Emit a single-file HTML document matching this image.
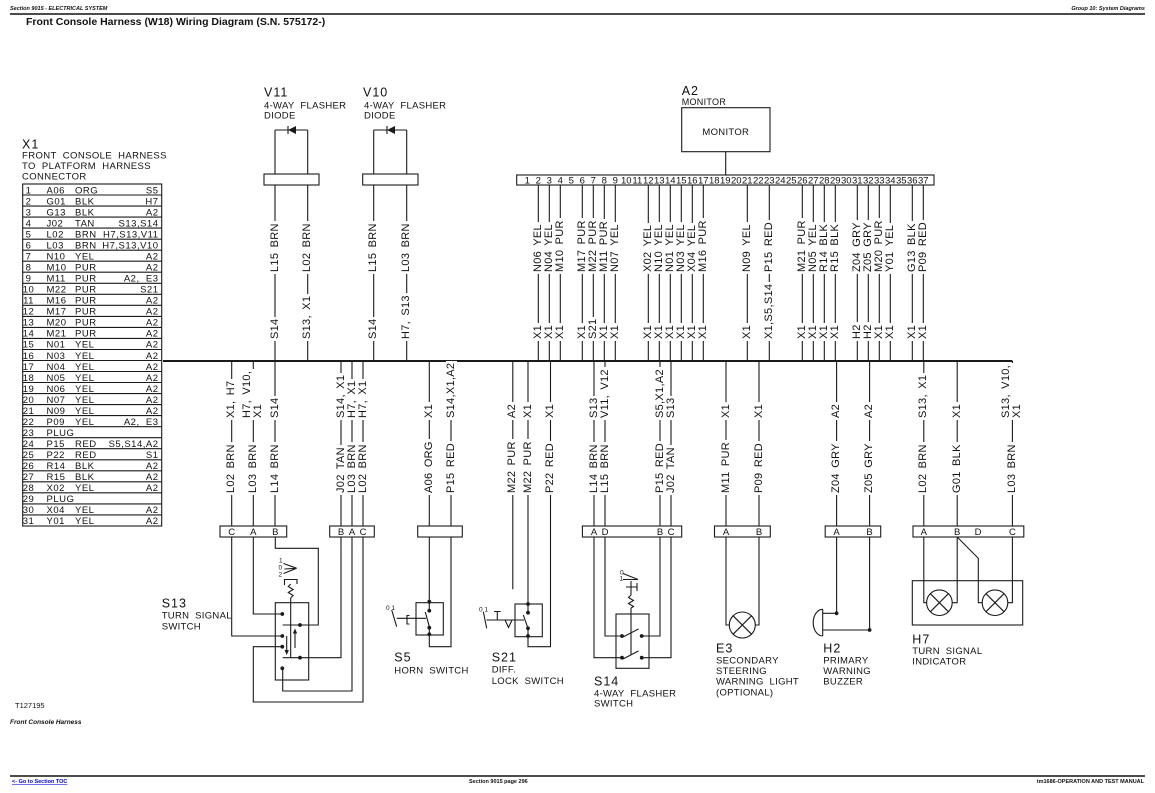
<!DOCTYPE html>
<html><head><meta charset="utf-8">
<style>
html,body{margin:0;padding:0;background:#fff}
#w{position:relative;width:1155px;height:793px;overflow:hidden;background:#fff}
svg{position:absolute;left:0;top:0}
svg text{font-family:"Liberation Sans",Arial,sans-serif;fill:#111}
.r{position:absolute;transform:rotate(-90deg);transform-origin:0 0;background:#fff;font:11px/11px "Liberation Sans",Arial,sans-serif;white-space:nowrap;padding:0 2px;letter-spacing:.3px;word-spacing:2px;color:#111}
</style></head><body><div id="w">
<svg width="1155" height="793" viewBox="0 0 1155 793">
<!-- header -->
<text x="10" y="10" font-size="5.5" font-weight="bold" font-style="italic">Section 9015 - ELECTRICAL SYSTEM</text>
<text x="1145" y="10" font-size="5.5" font-weight="bold" font-style="italic" text-anchor="end">Group 10: System Diagrams</text>
<line x1="10" y1="14" x2="1145" y2="14" stroke="#111" stroke-width="1.6"/>
<text x="26" y="25" font-size="10.5" font-weight="bold">Front Console Harness (W18) Wiring Diagram (S.N. 575172-)</text>

<g stroke="#1a1a1a" stroke-width="1.1" fill="none">
<!-- X1 table -->
<rect x="22.7" y="184" width="139" height="342"/>
<path d="M22.7 195H161.7M22.7 206.1H161.7M22.7 217.1H161.7M22.7 228.1H161.7M22.7 239.2H161.7M22.7 250.2H161.7M22.7 261.2H161.7M22.7 272.2H161.7M22.7 283.3H161.7M22.7 294.3H161.7M22.7 305.3H161.7M22.7 316.4H161.7M22.7 327.4H161.7M22.7 338.4H161.7M22.7 349.5H161.7M22.7 360.5H161.7M22.7 371.5H161.7M22.7 382.5H161.7M22.7 393.6H161.7M22.7 404.6H161.7M22.7 415.6H161.7M22.7 426.7H161.7M22.7 437.7H161.7M22.7 448.7H161.7M22.7 459.8H161.7M22.7 470.8H161.7M22.7 481.8H161.7M22.7 492.8H161.7M22.7 503.9H161.7M22.7 514.9H161.7"/>

<!-- V11 / V10 -->
<path d="M275 130V526M307.7 130V361M275 130H307.7"/>
<path d="M373.7 130V361M406.7 130V361M373.7 130H406.7"/>
<path d="M288 126V134M387 126V134"/>
<!-- A2 monitor -->
<rect x="681.7" y="107.7" width="88.3" height="44"/>
<path d="M725.7 151.7V175"/>

<!-- top wires from A2 -->
<path d="M538.3 185V361M549.3 185V361M560.3 185V361M582.3 185V361M593.3 185V361M604.3 185V361M615.3 185V361M648.3 185V361M659.3 185V361M670.3 185V361M681.3 185V361M692.3 185V361M703.3 185V361M747.3 185V361M769.3 185V361M802.3 185V361M813.3 185V361M824.3 185V361M835.3 185V361M857.3 185V361M868.3 185V361M879.3 185V361M890.3 185V361M912.3 185V361M923.3 185V361"/>

<!-- bottom wires -->
<path d="M231.7 361V526M253.3 361V526M341 361V526M352 361V526M363 361V526M429.3 361V526M451 361V526M512.8 361V589.3M528 361V612.7M594 361V526M605 361V526M660 361V526M671 361V526M726 361V526M759 361V526M836.6 361V526M869.6 361V526M923.8 361V526M957.2 361V526M1012.4 361V526"/>

<!-- S13 wiring -->
<path d="M231.7 537V636H282.3M253.3 537V614H282.3M275.3 537V548.3H318.3V625H300M341 537V657.7H300M352 537V691H282.7V668.3M363 537V702H253.3V646.7H282.3"/>
<rect x="275.3" y="602.7" width="33.4" height="77.3"/>
<path d="M290.7 598V657.7M282.7 625H300M282.7 657.7H300M286.7 636V651M295 648V633"/>
<polyline points="290.7,584 288.3,586.5 293.1,589.5 288.3,592.5 293.1,595.5 290.7,598"/>
<path d="M284.5 585V579.5H297V584M283.5 563.5L296.7 568.3M284.5 569L296.7 568.3M283.5 573.5L296.7 568.3"/>

<!-- S5 -->
<path d="M429.3 537V610.7M429.3 627.7V646.7H451V537M425.3 612L429.3 626.7"/>
<rect x="416" y="602.7" width="27.3" height="32.3"/>
<path d="M391.7 610L396.7 626.7M396.7 618.3H426M409.5 615.5H407V624H409.5"/>

<!-- S21 -->
<path d="M528 628.3V636M550.5 361V646.7H528V628.3M523.3 615L528 628.3"/>
<rect x="515" y="604" width="27.3" height="32.7"/>
<path d="M483.3 611.7L486.7 628.3M486.5 620H524M497.3 620V611.5M494 611.5H500.7M505 620L508.5 627.5L512 620"/>

<!-- S14 -->
<path d="M594 537V657.7H622M605 537V636H622M660 537V636H641.7M671 537V657.7H641.7"/>
<rect x="616" y="614" width="33" height="54.3"/>
<path d="M623 637L638.5 629M623 659L638.5 651M631 608V655"/>
<polyline points="631,595 628.5,597.5 633.5,600.5 628.5,603.5 633.5,606.5 631,608"/>
<path d="M631 581V595M626 587H637M637 583V591M623 573.5L638 579.5M623 579.5H638"/>

<!-- E3 -->
<path d="M726 537V625H729.3M759 537V625H755.3"/>
<circle cx="742.3" cy="625" r="13"/>
<path d="M733.1 615.8L751.5 634.2M751.5 615.8L733.1 634.2"/>

<!-- H2 -->
<path d="M836.6 537V613.3H822.7M869.6 537V630H822.7M822.7 609.3V636"/>
<path d="M822.7 609.3A9.5 13.35 0 0 0 822.7 636"/>

<!-- H7 -->
<rect x="912.3" y="580.7" width="110.4" height="44.3"/>
<path d="M923.8 537V602.7H926.6M957.2 537V602.7H952.2M957.2 537L978.3 558.3V602.7H982.2M1012.4 537V602.7H1007.8"/>
<circle cx="939.4" cy="602.7" r="12.8"/>
<circle cx="995" cy="602.7" r="12.8"/>
<path d="M930.4 593.7L948.4 611.7M948.4 593.7L930.4 611.7M986 593.7L1004 611.7M1004 593.7L986 611.7"/>

<!-- bus -->
<line x1="163" y1="361" x2="1012.4" y2="361" stroke-width="2"/>
<!-- footer line -->
<line x1="10" y1="776" x2="1145" y2="776" stroke="#111" stroke-width="1.6"/>
</g>

<!-- white-filled boxes -->
<g stroke="#1a1a1a" stroke-width="1.1" fill="#fff">
<rect x="264" y="174" width="55" height="11"/>
<rect x="362.7" y="174" width="55.3" height="11"/>
<rect x="516.7" y="175" width="417.3" height="10"/>
<rect x="220" y="526" width="66.7" height="11"/>
<rect x="329.7" y="526" width="44.6" height="11"/>
<rect x="417.7" y="526" width="44.6" height="11"/>
<rect x="582.4" y="526" width="99.3" height="11"/>
<rect x="714.5" y="526" width="55.8" height="11"/>
<rect x="825.2" y="526" width="55.5" height="11"/>
<rect x="913" y="526" width="110.8" height="11"/>
</g>

<!-- diodes, arrows, dots -->
<g fill="#1a1a1a">
<polygon points="288,130 296,126 296,134"/>
<polygon points="387,130 395,126 395,134"/>
<polygon points="286.7,655 284.5,650 288.9,650"/>
<polygon points="295,628.5 292.8,633.5 297.2,633.5"/>
<circle cx="282.3" cy="614" r="1.9"/><circle cx="282.3" cy="636" r="1.9"/><circle cx="282.3" cy="646.7" r="1.9"/><circle cx="282.3" cy="668.3" r="1.9"/><circle cx="300" cy="625" r="1.9"/><circle cx="300" cy="657.7" r="1.9"/>
<circle cx="429.3" cy="601.7" r="1.9"/><circle cx="429.3" cy="610.7" r="1.9"/><circle cx="429.3" cy="627.7" r="1.9"/><circle cx="429.3" cy="634.3" r="1.9"/>
<circle cx="528" cy="604" r="1.9"/><circle cx="528" cy="612.7" r="1.9"/><circle cx="528" cy="628.3" r="1.9"/><circle cx="528" cy="636" r="1.9"/>
<circle cx="622" cy="636" r="1.9"/><circle cx="641.7" cy="636" r="1.9"/><circle cx="622" cy="657.7" r="1.9"/><circle cx="641.7" cy="657.7" r="1.9"/>
<circle cx="836.6" cy="613.3" r="1.9"/><circle cx="869.6" cy="630" r="1.9"/>
</g>

<!-- X1 title -->
<text x="22" y="148.3" font-size="12.5" letter-spacing="1">X1</text>
<g font-size="9.5" letter-spacing=".4">
<text x="22" y="158.3">FRONT&#160; CONSOLE&#160; HARNESS</text>
<text x="22" y="169">TO&#160; PLATFORM&#160; HARNESS</text>
<text x="22" y="179.3">CONNECTOR</text>
</g>

<!-- X1 table text -->
<g font-size="9.5" letter-spacing=".5">
<g text-anchor="middle">
<text x="28.5" y="193.3">1</text><text x="28.5" y="204.3">2</text><text x="28.5" y="215.4">3</text><text x="28.5" y="226.4">4</text><text x="28.5" y="237.4">5</text><text x="28.5" y="248.5">6</text><text x="28.5" y="259.5">7</text><text x="28.5" y="270.5">8</text><text x="28.5" y="281.5">9</text><text x="28.5" y="292.6">10</text><text x="28.5" y="303.6">11</text><text x="28.5" y="314.6">12</text><text x="28.5" y="325.7">13</text><text x="28.5" y="336.7">14</text><text x="28.5" y="347.7">15</text><text x="28.5" y="358.8">16</text><text x="28.5" y="369.8">17</text><text x="28.5" y="380.8">18</text><text x="28.5" y="391.8">19</text><text x="28.5" y="402.9">20</text><text x="28.5" y="413.9">21</text><text x="28.5" y="424.9">22</text><text x="28.5" y="436">23</text><text x="28.5" y="447">24</text><text x="28.5" y="458">25</text><text x="28.5" y="469.1">26</text><text x="28.5" y="480.1">27</text><text x="28.5" y="491.1">28</text><text x="28.5" y="502.1">29</text><text x="28.5" y="513.2">30</text><text x="28.5" y="524.2">31</text>
</g>
<g>
<text x="46.5" y="193.3">A06</text><text x="46.5" y="204.3">G01</text><text x="46.5" y="215.4">G13</text><text x="46.5" y="226.4">J02</text><text x="46.5" y="237.4">L02</text><text x="46.5" y="248.5">L03</text><text x="46.5" y="259.5">N10</text><text x="46.5" y="270.5">M10</text><text x="46.5" y="281.5">M11</text><text x="46.5" y="292.6">M22</text><text x="46.5" y="303.6">M16</text><text x="46.5" y="314.6">M17</text><text x="46.5" y="325.7">M20</text><text x="46.5" y="336.7">M21</text><text x="46.5" y="347.7">N01</text><text x="46.5" y="358.8">N03</text><text x="46.5" y="369.8">N04</text><text x="46.5" y="380.8">N05</text><text x="46.5" y="391.8">N06</text><text x="46.5" y="402.9">N07</text><text x="46.5" y="413.9">N09</text><text x="46.5" y="424.9">P09</text><text x="46.5" y="436">PLUG</text><text x="46.5" y="447">P15</text><text x="46.5" y="458">P22</text><text x="46.5" y="469.1">R14</text><text x="46.5" y="480.1">R15</text><text x="46.5" y="491.1">X02</text><text x="46.5" y="502.1">PLUG</text><text x="46.5" y="513.2">X04</text><text x="46.5" y="524.2">Y01</text>
</g>
<g>
<text x="75" y="193.3">ORG</text><text x="75" y="204.3">BLK</text><text x="75" y="215.4">BLK</text><text x="75" y="226.4">TAN</text><text x="75" y="237.4">BRN</text><text x="75" y="248.5">BRN</text><text x="75" y="259.5">YEL</text><text x="75" y="270.5">PUR</text><text x="75" y="281.5">PUR</text><text x="75" y="292.6">PUR</text><text x="75" y="303.6">PUR</text><text x="75" y="314.6">PUR</text><text x="75" y="325.7">PUR</text><text x="75" y="336.7">PUR</text><text x="75" y="347.7">YEL</text><text x="75" y="358.8">YEL</text><text x="75" y="369.8">YEL</text><text x="75" y="380.8">YEL</text><text x="75" y="391.8">YEL</text><text x="75" y="402.9">YEL</text><text x="75" y="413.9">YEL</text><text x="75" y="424.9">YEL</text><text x="75" y="447">RED</text><text x="75" y="458">RED</text><text x="75" y="469.1">BLK</text><text x="75" y="480.1">BLK</text><text x="75" y="491.1">YEL</text><text x="75" y="513.2">YEL</text><text x="75" y="524.2">YEL</text>
</g>
<g text-anchor="end">
<text x="158.5" y="193.3">S5</text><text x="158.5" y="204.3">H7</text><text x="158.5" y="215.4">A2</text><text x="158.5" y="226.4">S13,S14</text><text x="158.5" y="237.4">H7,S13,V11</text><text x="158.5" y="248.5">H7,S13,V10</text><text x="158.5" y="259.5">A2</text><text x="158.5" y="270.5">A2</text><text x="158.5" y="281.5">A2,&#160; E3</text><text x="158.5" y="292.6">S21</text><text x="158.5" y="303.6">A2</text><text x="158.5" y="314.6">A2</text><text x="158.5" y="325.7">A2</text><text x="158.5" y="336.7">A2</text><text x="158.5" y="347.7">A2</text><text x="158.5" y="358.8">A2</text><text x="158.5" y="369.8">A2</text><text x="158.5" y="380.8">A2</text><text x="158.5" y="391.8">A2</text><text x="158.5" y="402.9">A2</text><text x="158.5" y="413.9">A2</text><text x="158.5" y="424.9">A2,&#160; E3</text><text x="158.5" y="447">S5,S14,A2</text><text x="158.5" y="458">S1</text><text x="158.5" y="469.1">A2</text><text x="158.5" y="480.1">A2</text><text x="158.5" y="491.1">A2</text><text x="158.5" y="513.2">A2</text><text x="158.5" y="524.2">A2</text>
</g>
</g>

<!-- component titles -->
<g font-size="12.5" letter-spacing="1">
<text x="264" y="96.7">V11</text>
<text x="363" y="96.7">V10</text>
<text x="681.7" y="95">A2</text>
<text x="161.7" y="607.5">S13</text>
<text x="394.3" y="661.7">S5</text>
<text x="491.7" y="661.7">S21</text>
<text x="594" y="685.7">S14</text>
<text x="716" y="652.7">E3</text>
<text x="823.3" y="652.7">H2</text>
<text x="912.3" y="643.3">H7</text>
</g>
<g font-size="9.5" letter-spacing=".3">
<text x="264" y="108.3">4-WAY&#160; FLASHER</text>
<text x="264" y="118.3">DIODE</text>
<text x="364" y="108.3">4-WAY&#160; FLASHER</text>
<text x="364" y="118.3">DIODE</text>
<text x="681.7" y="105" font-size="9">MONITOR</text>
<text x="725.8" y="135" text-anchor="middle">MONITOR</text>
<text x="161.7" y="618.3">TURN&#160; SIGNAL</text>
<text x="161.7" y="629.3">SWITCH</text>
<text x="394.3" y="673.3">HORN&#160; SWITCH</text>
<text x="491.7" y="672.7">DIFF.</text>
<text x="491.7" y="684">LOCK&#160; SWITCH</text>
<text x="594" y="696.7">4-WAY&#160; FLASHER</text>
<text x="594" y="706.7">SWITCH</text>
<text x="716" y="663.3">SECONDARY</text>
<text x="716" y="674">STEERING</text>
<text x="716" y="684.7">WARNING&#160; LIGHT</text>
<text x="716" y="695.3">(OPTIONAL)</text>
<text x="823.3" y="663.3">PRIMARY</text>
<text x="823.3" y="674">WARNING</text>
<text x="823.3" y="684.7">BUZZER</text>
<text x="912.3" y="654">TURN&#160; SIGNAL</text>
<text x="912.3" y="664.5">INDICATOR</text>
</g>

<!-- A2 pin numbers -->
<g font-size="9.5" text-anchor="middle">
<text x="527.3" y="183.5">1</text><text x="538.3" y="183.5">2</text><text x="549.3" y="183.5">3</text><text x="560.3" y="183.5">4</text><text x="571.3" y="183.5">5</text><text x="582.3" y="183.5">6</text><text x="593.3" y="183.5">7</text><text x="604.3" y="183.5">8</text><text x="615.3" y="183.5">9</text><text x="626.3" y="183.5">10</text><text x="637.3" y="183.5">11</text><text x="648.3" y="183.5">12</text><text x="659.3" y="183.5">13</text><text x="670.3" y="183.5">14</text><text x="681.3" y="183.5">15</text><text x="692.3" y="183.5">16</text><text x="703.3" y="183.5">17</text><text x="714.3" y="183.5">18</text><text x="725.3" y="183.5">19</text><text x="736.3" y="183.5">20</text><text x="747.3" y="183.5">21</text><text x="758.3" y="183.5">22</text><text x="769.3" y="183.5">23</text><text x="780.3" y="183.5">24</text><text x="791.3" y="183.5">25</text><text x="802.3" y="183.5">26</text><text x="813.3" y="183.5">27</text><text x="824.3" y="183.5">28</text><text x="835.3" y="183.5">29</text><text x="846.3" y="183.5">30</text><text x="857.3" y="183.5">31</text><text x="868.3" y="183.5">32</text><text x="879.3" y="183.5">33</text><text x="890.3" y="183.5">34</text><text x="901.3" y="183.5">35</text><text x="912.3" y="183.5">36</text><text x="923.3" y="183.5">37</text>
</g>

<!-- connector pin letters -->
<g font-size="9.5" text-anchor="middle">
<text x="231.7" y="535">C</text><text x="253.3" y="535">A</text><text x="275.3" y="535">B</text>
<text x="341" y="535">B</text><text x="352" y="535">A</text><text x="363" y="535">C</text>
<text x="594" y="535">A</text><text x="605" y="535">D</text><text x="660" y="535">B</text><text x="671" y="535">C</text>
<text x="726" y="535">A</text><text x="759" y="535">B</text>
<text x="836.6" y="535">A</text><text x="869.6" y="535">B</text>
<text x="923.8" y="535">A</text><text x="957.2" y="535">B</text><text x="978" y="535">D</text><text x="1012.4" y="535">C</text>
</g>

<!-- switch position marks -->
<g font-size="6.5">
<text x="279" y="562.5">1</text><text x="278.5" y="569.5">0</text><text x="278.5" y="576.5">2</text>
<text x="386" y="610">0 1</text>
<text x="479" y="611.7">0 1</text>
<text x="620" y="574.5">0</text><text x="619.5" y="580.5">1</text>
</g>

<!-- figure ids / footer -->
<text x="15" y="708" font-size="7.5">T127195</text>
<text x="10" y="724" font-size="6.5" font-weight="bold" font-style="italic">Front Console Harness</text>
<text x="12" y="783" font-size="5.5" font-weight="bold" style="fill:#0000cc;text-decoration:underline">&lt;- Go to Section TOC</text>
<text x="469" y="783" font-size="5.5" font-weight="bold">Section 9015 page 296</text>
<text x="1144" y="783" font-size="5.5" font-weight="bold" text-anchor="end">tm1686-OPERATION AND TEST MANUAL</text>
</svg>

<!-- top rotated labels: names -->
<div class="r" style="left:269.5px;top:274px">L15 BRN</div>
<div class="r" style="left:302.2px;top:274px">L02 BRN</div>
<div class="r" style="left:368.2px;top:274px">L15 BRN</div>
<div class="r" style="left:401.2px;top:274px">L03 BRN</div>
<div class="r" style="left:532.8px;top:274px">N06 YEL</div>
<div class="r" style="left:543.8px;top:274px">N04 YEL</div>
<div class="r" style="left:554.8px;top:274px">M10 PUR</div>
<div class="r" style="left:576.8px;top:274px">M17 PUR</div>
<div class="r" style="left:587.8px;top:274px">M22 PUR</div>
<div class="r" style="left:598.8px;top:274px">M11 PUR</div>
<div class="r" style="left:609.8px;top:274px">N07 YEL</div>
<div class="r" style="left:642.8px;top:274px">X02 YEL</div>
<div class="r" style="left:653.8px;top:274px">N10 YEL</div>
<div class="r" style="left:664.8px;top:274px">N01 YEL</div>
<div class="r" style="left:675.8px;top:274px">N03 YEL</div>
<div class="r" style="left:686.8px;top:274px">X04 YEL</div>
<div class="r" style="left:697.8px;top:274px">M16 PUR</div>
<div class="r" style="left:741.8px;top:274px">N09 YEL</div>
<div class="r" style="left:763.8px;top:274px">P15 RED</div>
<div class="r" style="left:796.8px;top:274px">M21 PUR</div>
<div class="r" style="left:807.8px;top:274px">N05 YEL</div>
<div class="r" style="left:818.8px;top:274px">R14 BLK</div>
<div class="r" style="left:829.8px;top:274px">R15 BLK</div>
<div class="r" style="left:851.8px;top:274px">Z04 GRY</div>
<div class="r" style="left:862.8px;top:274px">Z05 GRY</div>
<div class="r" style="left:873.8px;top:274px">M20 PUR</div>
<div class="r" style="left:884.8px;top:274px">Y01 YEL</div>
<div class="r" style="left:906.8px;top:274px">G13 BLK</div>
<div class="r" style="left:917.8px;top:274px">P09 RED</div>
<!-- top rotated labels: destinations -->
<div class="r" style="left:269.5px;top:341px">S14</div>
<div class="r" style="left:302.2px;top:341px">S13, X1</div>
<div class="r" style="left:368.2px;top:341px">S14</div>
<div class="r" style="left:401.2px;top:341px">H7, S13</div>
<div class="r" style="left:532.8px;top:341px">X1</div>
<div class="r" style="left:543.8px;top:341px">X1</div>
<div class="r" style="left:554.8px;top:341px">X1</div>
<div class="r" style="left:576.8px;top:341px">X1</div>
<div class="r" style="left:587.8px;top:341px">S21</div>
<div class="r" style="left:598.8px;top:341px">X1</div>
<div class="r" style="left:609.8px;top:341px">X1</div>
<div class="r" style="left:642.8px;top:341px">X1</div>
<div class="r" style="left:653.8px;top:341px">X1</div>
<div class="r" style="left:664.8px;top:341px">X1</div>
<div class="r" style="left:675.8px;top:341px">X1</div>
<div class="r" style="left:686.8px;top:341px">X1</div>
<div class="r" style="left:697.8px;top:341px">X1</div>
<div class="r" style="left:741.8px;top:341px">X1</div>
<div class="r" style="left:763.8px;top:341px">X1,S5,S14</div>
<div class="r" style="left:796.8px;top:341px">X1</div>
<div class="r" style="left:807.8px;top:341px">X1</div>
<div class="r" style="left:818.8px;top:341px">X1</div>
<div class="r" style="left:829.8px;top:341px">X1</div>
<div class="r" style="left:851.8px;top:341px">H2</div>
<div class="r" style="left:862.8px;top:341px">H2</div>
<div class="r" style="left:873.8px;top:341px">X1</div>
<div class="r" style="left:884.8px;top:341px">X1</div>
<div class="r" style="left:906.8px;top:341px">X1</div>
<div class="r" style="left:917.8px;top:341px">X1</div>

<!-- bottom rotated labels: names -->
<div class="r" style="left:226.2px;top:495px">L02 BRN</div>
<div class="r" style="left:247.8px;top:495px">L03 BRN</div>
<div class="r" style="left:269.8px;top:495px">L14 BRN</div>
<div class="r" style="left:335.5px;top:495px">J02 TAN</div>
<div class="r" style="left:346.5px;top:495px">L03 BRN</div>
<div class="r" style="left:357.5px;top:495px">L02 BRN</div>
<div class="r" style="left:423.8px;top:495px">A06 ORG</div>
<div class="r" style="left:445.5px;top:495px">P15 RED</div>
<div class="r" style="left:507.3px;top:495px">M22 PUR</div>
<div class="r" style="left:522.5px;top:495px">M22 PUR</div>
<div class="r" style="left:545px;top:495px">P22 RED</div>
<div class="r" style="left:588.5px;top:495px">L14 BRN</div>
<div class="r" style="left:599.5px;top:495px">L15 BRN</div>
<div class="r" style="left:654.5px;top:495px">P15 RED</div>
<div class="r" style="left:665.5px;top:495px">J02 TAN</div>
<div class="r" style="left:720.5px;top:495px">M11 PUR</div>
<div class="r" style="left:753.5px;top:495px">P09 RED</div>
<div class="r" style="left:831.1px;top:495px">Z04 GRY</div>
<div class="r" style="left:864.1px;top:495px">Z05 GRY</div>
<div class="r" style="left:918.3px;top:495px">L02 BRN</div>
<div class="r" style="left:951.7px;top:495px">G01 BLK</div>
<div class="r" style="left:1006.9px;top:495px">L03 BRN</div>
<!-- bottom rotated labels: destinations -->
<div class="r" style="left:226.2px;top:420px">X1, H7</div>
<div class="r" style="left:242.3px;top:420px">H7, V10,<br>X1</div>
<div class="r" style="left:269.8px;top:420px">S14</div>
<div class="r" style="left:335.5px;top:420px">S14, X1</div>
<div class="r" style="left:346.5px;top:420px">H7, X1</div>
<div class="r" style="left:357.5px;top:420px">H7, X1</div>
<div class="r" style="left:423.8px;top:420px">X1</div>
<div class="r" style="left:445.5px;top:420px">S14,X1,A2</div>
<div class="r" style="left:507.3px;top:420px">A2</div>
<div class="r" style="left:522.5px;top:420px">X1</div>
<div class="r" style="left:545px;top:420px">X1</div>
<div class="r" style="left:588.5px;top:420px">S13</div>
<div class="r" style="left:599.5px;top:420px">V11, V12</div>
<div class="r" style="left:654.5px;top:420px">S5,X1,A2</div>
<div class="r" style="left:665.5px;top:420px">S13</div>
<div class="r" style="left:720.5px;top:420px">X1</div>
<div class="r" style="left:753.5px;top:420px">X1</div>
<div class="r" style="left:831.1px;top:420px">A2</div>
<div class="r" style="left:864.1px;top:420px">A2</div>
<div class="r" style="left:918.3px;top:420px">S13, X1</div>
<div class="r" style="left:951.7px;top:420px">X1</div>
<div class="r" style="left:1001.4px;top:420px">S13, V10,<br>X1</div>
</div></body></html>
